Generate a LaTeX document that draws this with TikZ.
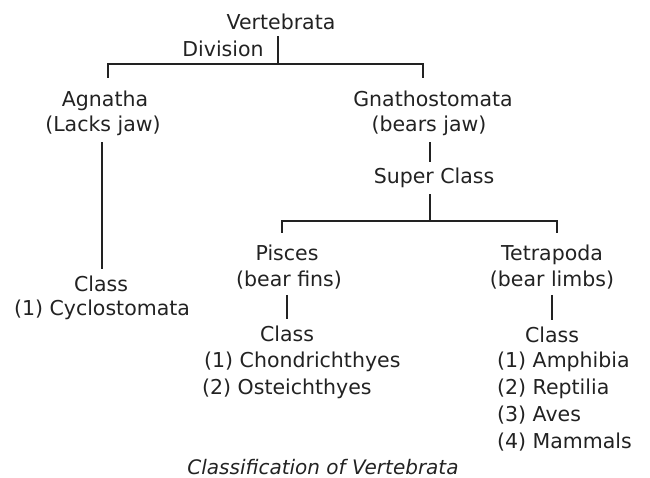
\documentclass[tikz,border=0pt]{standalone}
\usepackage{fontspec}
\setmainfont{DejaVu Sans}
\definecolor{ink}{HTML}{222222}
\begin{document}
\begin{tikzpicture}[x=1pt,y=-1pt,
  lbl/.style={anchor=base,inner sep=6pt,text=ink,font=\fontsize{20.5}{24}\selectfont},
  lstitem/.style={lbl,anchor=base west,inner sep=0pt},
  conn/.style={draw=ink,line width=1.6pt}]
\useasboundingbox (0,0) rectangle (650,478);
% nodes
\node[lbl] (vert) at (281,30) {Vertebrata};
\node[lbl] (div) at (223,57) {Division};
\node[lbl] (agnA) at (105,107) {Agnatha};
\node[lbl] (agnB) at (103,132) {(Lacks jaw)};
\node[lbl] (gnaA) at (433,107) {Gnathostomata};
\node[lbl] (gnaB) at (429,132) {(bears jaw)};
\node[lbl] (sup) at (434,184) {Super Class};
\node[lbl] (pisA) at (287,261) {Pisces};
\node[lbl] (pisB) at (289,286) {(bear fins)};
\node[lbl] (tetA) at (552,261) {Tetrapoda};
\node[lbl] (tetB) at (552,286) {(bear limbs)};
\node[lbl] (agc) at (101,291) {Class};
\node[lbl] (cyc) at (102,315) {(1) Cyclostomata};
\node[lbl] (pcls) at (287,341) {Class};
\node[lstitem] (ch1) at (204,367) {(1) Chondrichthyes};
\node[lstitem] (ch2) at (202,394) {(2) Osteichthyes};
\node[lbl] (tcls) at (552,342) {Class};
\node[lstitem] (t1) at (497,367) {(1) Amphibia};
\node[lstitem] (t2) at (497,394) {(2) Reptilia};
\node[lstitem] (t3) at (497,421) {(3) Aves};
\node[lstitem] (t4) at (497,448) {(4) Mammals};
\node[lbl,inner sep=0pt,font=\fontsize{20}{24}\selectfont\itshape] (cap) at (323,474) {Classification of Vertebrata};
% junction coordinates
\coordinate (j1) at (278,64);
\coordinate (aL) at (108,78);
\coordinate (aR) at (423,78);
\coordinate (j2) at (430,221);
\coordinate (pL) at (282,233);
\coordinate (pR) at (557,233);
% connectors
\draw[conn] (j1 |- vert.south) -- (j1);
\draw[conn] (aL) |- (j1) -| (aR);
\draw[conn] ([xshift=-1pt]agnB.south) -- ([xshift=-1pt]agnB.south |- agc.north);
\draw[conn] (j2 |- gnaB.south) -- (j2 |- sup.north);
\draw[conn] (j2 |- sup.south) -- (j2);
\draw[conn] (pL) |- (j2) -| (pR);
\draw[conn] (pisA.center |- pisB.south) -- (pisA.center |- pcls.north);
\draw[conn] (tetB.south) -- (tetB.south |- tcls.north);
\end{tikzpicture}
\end{document}
